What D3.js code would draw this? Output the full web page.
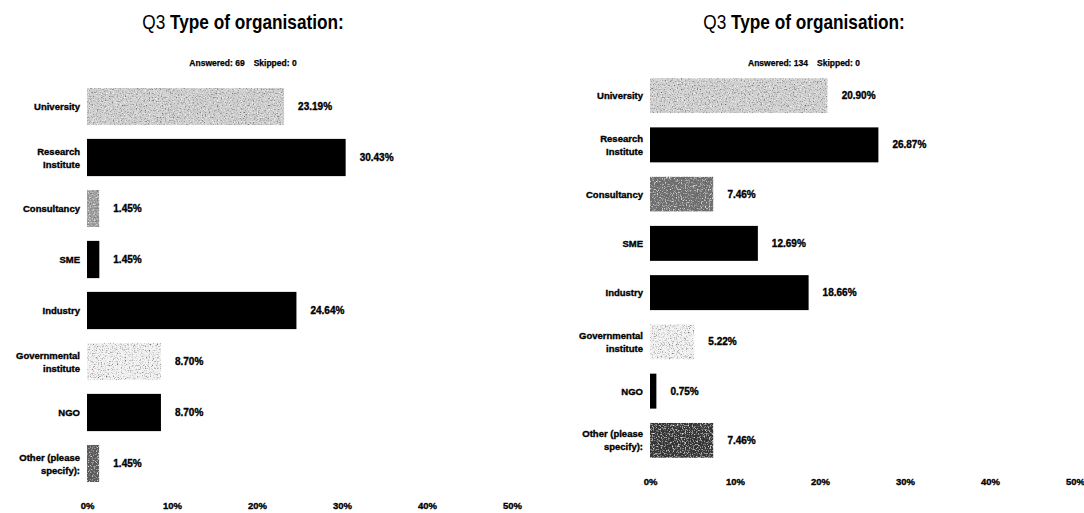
<!DOCTYPE html>
<html>
<head>
<meta charset="utf-8">
<script src="https://cdn.jsdelivr.net/npm/d3@7/dist/d3.min.js"></script>
<style>
  html, body { margin: 0; padding: 0; background: #fff; }
  svg { display: block; }
  .lbl { font-family: "Liberation Sans", Arial, sans-serif; font-weight: bold; fill: #000;
         stroke: #000; stroke-width: 0.35px; }
  .ttl { font-family: "Liberation Sans", Arial, sans-serif; fill: #000; }
</style>
</head>
<body>
<svg id="chart" width="1084" height="513"></svg>
<script>
// Survey question and answer options
const question = "Type of organisation:";
const questionNo = "Q3";
const categories = [
  "University", "Research Institute", "Consultancy", "SME",
  "Industry", "Governmental institute", "NGO", "Other (please specify):"
];
// Two-line wrapping of the answer options
const categoryLines = [
  ["University"], ["Research", "Institute"], ["Consultancy"], ["SME"],
  ["Industry"], ["Governmental", "institute"], ["NGO"], ["Other (please", "specify):"]
];

// Survey 1 (left) and survey 2 (right), percent of respondents
const valuesA = [23.19, 30.43, 1.45, 1.45, 24.64, 8.70, 8.70, 1.45];
const valuesB = [20.90, 26.87, 7.46, 12.69, 18.66, 5.22, 0.75, 7.46];
const answeredA = 69, skippedA = 0;
const answeredB = 134, skippedB = 0;

const tickValues = [0, 10, 20, 30, 40, 50];

// Bar shades for each answer option
const shadesA = ["#d0d0d0", "#000", "#a0a0a0", "#000", "#000", "#f2f2f2", "#000", "#5a5a5a"];
const shadesB = ["#d2d2d2", "#000", "#707070", "#000", "#000", "#f2f2f2", "#000", "#303030"];

const svg = d3.select("#chart");

// grainy halftone texture for the grey bars: dark and light specks
const defs = svg.append("defs");
const f = defs.append("filter").attr("id", "grain")
  .attr("x", 0).attr("y", 0).attr("width", 1).attr("height", 1);
f.append("feTurbulence").attr("type", "fractalNoise").attr("baseFrequency", 0.75)
  .attr("numOctaves", 2).attr("seed", 3).attr("result", "noise");
f.append("feColorMatrix").attr("in", "noise").attr("type", "matrix")
  .attr("values", "0 0 0 0 0.1  0 0 0 0 0.1  0 0 0 0 0.1  0 0 0 -2.6 1.3").attr("result", "dark");
f.append("feColorMatrix").attr("in", "noise").attr("type", "matrix")
  .attr("values", "0 0 0 0 1  0 0 0 0 1  0 0 0 0 1  -2.6 0 0 0 1.25").attr("result", "light");
const m = f.append("feMerge").attr("result", "merged");
m.append("feMergeNode").attr("in", "SourceGraphic");
m.append("feMergeNode").attr("in", "light");
m.append("feMergeNode").attr("in", "dark");
f.append("feComposite").attr("in", "merged").attr("in2", "SourceGraphic").attr("operator", "in");

function panel(cfg) {
  const g = svg.append("g");
  const x = d3.scaleLinear().domain([0, 50]).range([cfg.x0, cfg.x1]);
  const y = d3.scaleBand().domain(categories).range([cfg.y0, cfg.y1])
    .paddingInner(cfg.pad).paddingOuter(cfg.pad / 2);

  // title, horizontally condensed
  const tg = g.append("g").attr("transform", `translate(${cfg.cx},29) scale(0.82,1)`);
  tg.append("text").attr("class", "ttl")
    .attr("x", 0).attr("y", 0).attr("text-anchor", "middle")
    .style("font-size", "21px")
    .html(`<tspan>${questionNo}</tspan> <tspan font-weight="bold">${question}</tspan>`);

  const s = g.append("text").attr("class", "lbl")
    .attr("x", cfg.cx).attr("y", 66).attr("text-anchor", "middle")
    .style("font-size", "8.5px").style("stroke-width", "0.25px");
  s.append("tspan").text("Answered: " + cfg.answered);
  s.append("tspan").attr("dx", 9).text("Skipped: " + cfg.skipped);

  // bars
  g.selectAll("rect.bar").data(categories).join("rect")
    .attr("class", "bar")
    .attr("x", x(0))
    .attr("y", d => y(d))
    .attr("width", (d, i) => x(cfg.values[i]) - x(0))
    .attr("height", y.bandwidth())
    .attr("fill", (d, i) => cfg.shades[i])
    .attr("filter", (d, i) => cfg.shades[i] === "#000" ? null : "url(#grain)");

  // value labels
  g.selectAll("text.val").data(categories).join("text")
    .attr("class", "lbl val")
    .attr("x", (d, i) => x(cfg.values[i]) + 14)
    .attr("y", d => y(d) + y.bandwidth() / 2 + 3.5)
    .style("font-size", "10px")
    .text((d, i) => cfg.values[i].toFixed(2) + "%");

  // category labels
  const cl = g.selectAll("text.cat").data(categories).join("text")
    .attr("class", "lbl cat")
    .attr("text-anchor", "end")
    .style("font-size", "9.5px");
  cl.each(function (d, i) {
    const lines = categoryLines[i];
    const mid = y(d) + y.bandwidth() / 2;
    const first = mid + 3.5 - (lines.length - 1) * 6.5;
    d3.select(this).selectAll("tspan").data(lines).join("tspan")
      .attr("x", x(0) - 7)
      .attr("y", (l, j) => first + j * 13)
      .text(l => l);
  });

  // x axis tick labels
  const axis = d3.axisBottom(x).tickValues(tickValues)
    .tickFormat(v => v + "%").tickSize(0).tickPadding(0);
  const ag = g.append("g").attr("transform", `translate(0,${cfg.axisY})`).call(axis);
  ag.select(".domain").remove();
  ag.selectAll("text").attr("class", "lbl").attr("fill", "#000")
    .style("font-size", "9.5px").attr("dy", 0);
}

panel({ x0: 87, x1: 512, y0: 81, y1: 489, pad: 0.27, cx: 243,
        values: valuesA, shades: shadesA, answered: answeredA, skipped: skippedA, axisY: 509 });
panel({ x0: 650, x1: 1075, y0: 71, y1: 465, pad: 0.29, cx: 804,
        values: valuesB, shades: shadesB, answered: answeredB, skipped: skippedB, axisY: 485 });
</script>
</body>
</html>
